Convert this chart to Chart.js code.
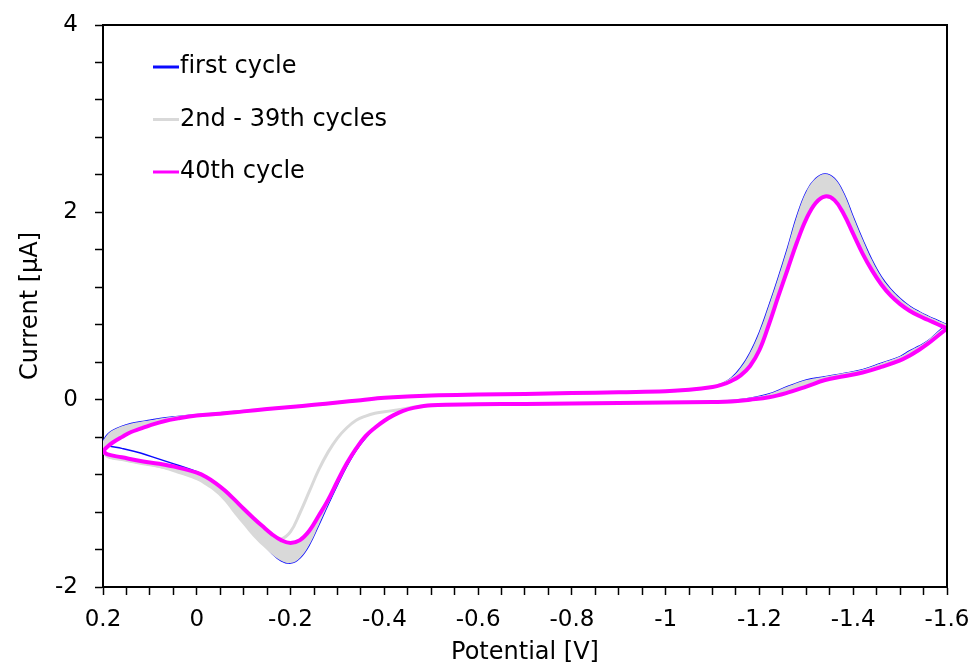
<!DOCTYPE html>
<html>
<head>
<meta charset="utf-8">
<title>Cyclic voltammogram</title>
<script src="https://cdn.jsdelivr.net/npm/chart.js@4.4.1/dist/chart.umd.min.js"></script>
<style>
  html, body { margin: 0; padding: 0; background: #fff; }
</style>
</head>
<body>
<canvas id="cvChart" width="975" height="668"></canvas>
<script>
// potential grid of the negative-going scan and of the return scan (V)
const fwdPotential = [0.2, 0.19, 0.18, 0.16, 0.14, 0.12, 0.1, 0.07, 0.04, 0,
  -0.05, -0.1, -0.15, -0.2, -0.25, -0.3, -0.35, -0.4, -0.5, -0.6, -0.7, -0.8, -0.9, -1.0,
  -1.05, -1.1, -1.12, -1.14, -1.16, -1.18, -1.2, -1.22, -1.24, -1.26, -1.28, -1.3, -1.32,
  -1.34, -1.36, -1.38, -1.4, -1.42, -1.44, -1.46, -1.48, -1.5, -1.52, -1.54, -1.56, -1.58, -1.6];
const revPotential = [-1.6, -1.58, -1.56, -1.54, -1.52, -1.5, -1.46, -1.42, -1.38, -1.34,
  -1.3, -1.26, -1.22, -1.18, -1.14, -1.1, -1.0, -0.9, -0.8, -0.7, -0.6, -0.5, -0.46, -0.44,
  -0.42, -0.4, -0.38, -0.36, -0.34, -0.32, -0.3, -0.28, -0.26, -0.24, -0.22, -0.2, -0.18,
  -0.16, -0.14, -0.12, -0.1, -0.08, -0.06, -0.04, -0.02, 0, 0.04, 0.08, 0.12, 0.16, 0.19, 0.2];

// currents (µA)
const firstFwd = [-0.44, -0.37, -0.33, -0.285, -0.255, -0.235, -0.22, -0.195, -0.18, -0.16,
  -0.14, -0.12, -0.1, -0.078, -0.055, -0.03, -0.005, 0.02, 0.045, 0.055, 0.06, 0.07, 0.08, 0.09,
  0.105, 0.135, 0.17, 0.23, 0.34, 0.5, 0.72, 1.0, 1.3, 1.62, 1.96, 2.22, 2.36,
  2.41, 2.36, 2.2, 1.95, 1.71, 1.49, 1.31, 1.18, 1.08, 1.0, 0.94, 0.89, 0.845, 0.8];
const firstRev = [0.8, 0.72, 0.63, 0.57, 0.52, 0.46, 0.39, 0.32, 0.28, 0.245,
  0.21, 0.14, 0.06, 0.015, -0.01, -0.02, -0.03, -0.035, -0.04, -0.045, -0.05, -0.06, -0.08, -0.11,
  -0.16, -0.22, -0.3, -0.41, -0.54, -0.71, -0.91, -1.12, -1.34, -1.55, -1.69, -1.745, -1.72,
  -1.64, -1.52, -1.38, -1.25, -1.12, -1.0, -0.9, -0.82, -0.77, -0.7, -0.635, -0.57, -0.52, -0.49, -0.45];

const midFwd = [-0.5, -0.44, -0.4, -0.34, -0.3, -0.27, -0.25, -0.215, -0.19, -0.165,
  -0.145, -0.122, -0.1, -0.078, -0.055, -0.03, -0.005, 0.02, 0.045, 0.055, 0.06, 0.07, 0.08, 0.09,
  0.105, 0.135, 0.165, 0.215, 0.3, 0.43, 0.63, 0.9, 1.2, 1.5, 1.81, 2.06, 2.22,
  2.29, 2.25, 2.09, 1.86, 1.64, 1.44, 1.27, 1.15, 1.05, 0.975, 0.92, 0.87, 0.825, 0.785];
const midRev = [0.78, 0.7, 0.615, 0.55, 0.495, 0.44, 0.37, 0.305, 0.265, 0.23,
  0.175, 0.105, 0.04, 0.005, -0.015, -0.022, -0.03, -0.035, -0.04, -0.045, -0.05, -0.065, -0.08, -0.1,
  -0.115, -0.13, -0.145, -0.175, -0.22, -0.3, -0.41, -0.56, -0.75, -0.98, -1.21, -1.41, -1.49,
  -1.48, -1.45, -1.38, -1.28, -1.17, -1.05, -0.96, -0.89, -0.83, -0.76, -0.71, -0.675, -0.635, -0.6, -0.52];

const lastFwd = [-0.55, -0.5, -0.46, -0.4, -0.345, -0.31, -0.275, -0.23, -0.2, -0.17,
  -0.15, -0.125, -0.1, -0.078, -0.055, -0.03, -0.005, 0.02, 0.045, 0.055, 0.06, 0.07, 0.08, 0.09,
  0.105, 0.135, 0.16, 0.2, 0.26, 0.36, 0.53, 0.8, 1.1, 1.39, 1.68, 1.93, 2.1,
  2.17, 2.13, 1.98, 1.77, 1.56, 1.38, 1.23, 1.11, 1.02, 0.95, 0.895, 0.85, 0.805, 0.76];
const lastRev = [0.76, 0.68, 0.6, 0.53, 0.47, 0.42, 0.35, 0.29, 0.25, 0.21,
  0.14, 0.075, 0.025, 0.0, -0.02, -0.025, -0.03, -0.035, -0.04, -0.045, -0.05, -0.06, -0.09, -0.12,
  -0.165, -0.225, -0.3, -0.39, -0.52, -0.68, -0.87, -1.07, -1.24, -1.4, -1.5, -1.53, -1.5,
  -1.435, -1.35, -1.26, -1.165, -1.065, -0.97, -0.89, -0.825, -0.78, -0.725, -0.685, -0.655, -0.615, -0.585, -0.55];

// outer edge of the grey band of cycles 2-39 on the return scan
const bandRevEdge = [0.8, 0.72, 0.63, 0.57, 0.52, 0.46, 0.39, 0.32, 0.28, 0.245,
  0.21, 0.14, 0.06, 0.015, -0.01, -0.02, -0.03, -0.035, -0.04, -0.045, -0.05, -0.06, -0.09, -0.12,
  -0.165, -0.225, -0.3, -0.41, -0.54, -0.71, -0.91, -1.12, -1.34, -1.55, -1.69, -1.745, -1.72,
  -1.65, -1.56, -1.46, -1.34, -1.22, -1.09, -0.99, -0.92, -0.86, -0.79, -0.73, -0.695, -0.655, -0.625, -0.58];

const seriesNames = ['first cycle', '2nd - 39th cycles', '40th cycle'];
const xTickLabels = ['0.2', '0', '-0.2', '-0.4', '-0.6', '-0.8', '-1', '-1.2', '-1.4', '-1.6'];
const yTickLabels = ['-2', '0', '2', '4'];

const FONT = 'DejaVu Sans';
const GREY = '#d9d9d9';

function pts(xs, ys) {
  return xs.map((x, i) => ({ x: x, y: ys[i] }));
}
function loop(fwd, rev) {
  return pts(fwdPotential, fwd).concat(pts(revPotential, rev));
}

// legend drawn inside the plot, top left
const cvLegend = {
  id: 'cvLegend',
  afterDraw(chart) {
    const ctx = chart.ctx;
    const a = chart.chartArea;
    ctx.save();
    ctx.font = '24px "' + FONT + '"';
    ctx.textRendering = 'optimizeSpeed'; // no "fi" ligature
    ctx.textBaseline = 'middle';
    ctx.textAlign = 'left';
    for (let i = 0; i < 3; i++) {
      const ds = chart.data.datasets[i];
      const y = a.top + 42 + i * 52.5;
      ctx.strokeStyle = ds.borderColor;
      ctx.lineWidth = 3;
      ctx.beginPath();
      ctx.moveTo(a.left + 50, y);
      ctx.lineTo(a.left + 76, y);
      ctx.stroke();
      ctx.fillStyle = '#000';
      ctx.fillText(ds.label, a.left + 77, y);
    }
    ctx.restore();
  }
};

// top and right edges of the frame
const cvFrame = {
  id: 'cvFrame',
  afterDatasetsDraw(chart) {
    const ctx = chart.ctx;
    const a = chart.chartArea;
    ctx.save();
    ctx.strokeStyle = '#000';
    ctx.lineWidth = 2;
    ctx.beginPath();
    ctx.moveTo(a.left - 1, a.top);
    ctx.lineTo(a.right, a.top);
    ctx.lineTo(a.right, a.bottom + 1);
    ctx.stroke();
    ctx.restore();
  }
};

const ctx = document.getElementById('cvChart').getContext('2d');
const cvChart = new Chart(ctx, {
  type: 'scatter',
  data: {
    datasets: [
      {
        label: seriesNames[0],
        data: loop(firstFwd, firstRev),
        showLine: true,
        borderColor: '#0a0aff',
        borderWidth: 1.5,
        pointRadius: 0,
        tension: 0.4,
        order: 5
      },
      {
        label: seriesNames[1],
        data: loop(midFwd, midRev),
        showLine: true,
        borderColor: GREY,
        borderWidth: 3,
        pointRadius: 0,
        tension: 0.4,
        order: 2
      },
      {
        label: seriesNames[2],
        data: loop(lastFwd, lastRev),
        showLine: true,
        borderColor: '#ff00ff',
        borderWidth: 4,
        pointRadius: 0,
        tension: 0.4,
        order: 0
      },
      // grey band, forward scan: between first and 40th cycle
      {
        label: 'band-fwd',
        data: pts(fwdPotential, firstFwd),
        showLine: true,
        borderWidth: 0,
        borderColor: 'rgba(0,0,0,0)',
        backgroundColor: GREY,
        fill: 4,
        pointRadius: 0,
        tension: 0.4,
        order: 3
      },
      {
        label: 'band-fwd-inner',
        data: pts(fwdPotential, lastFwd),
        showLine: true,
        borderWidth: 0,
        borderColor: 'rgba(0,0,0,0)',
        pointRadius: 0,
        tension: 0.4,
        order: 6
      },
      // grey band, return scan
      {
        label: 'band-rev',
        data: pts(revPotential, bandRevEdge),
        showLine: true,
        borderWidth: 0,
        borderColor: 'rgba(0,0,0,0)',
        backgroundColor: GREY,
        fill: 6,
        pointRadius: 0,
        tension: 0.4,
        order: 3
      },
      {
        label: 'band-rev-inner',
        data: pts(revPotential, lastRev),
        showLine: true,
        borderWidth: 0,
        borderColor: 'rgba(0,0,0,0)',
        pointRadius: 0,
        tension: 0.4,
        order: 6
      }
    ]
  },
  options: {
    responsive: false,
    animation: false,
    devicePixelRatio: 1,
    layout: { padding: { left: 0, right: 28, top: 25, bottom: 0 } },
    plugins: {
      legend: { display: false },
      tooltip: { enabled: false }
    },
    scales: {
      x: {
        type: 'linear',
        reverse: true,
        min: -1.6,
        max: 0.2,
        ticks: {
          stepSize: 0.05,
          autoSkip: false,
          maxRotation: 0,
          color: '#000',
          padding: 11,
          font: { family: FONT, size: 23 },
          callback: function (value) {
            const k = (0.2 - value) / 0.2;
            const r = Math.round(k);
            return Math.abs(k - r) < 1e-6 ? xTickLabels[r] : '';
          }
        },
        grid: { drawOnChartArea: false, drawTicks: true, tickLength: 8, tickWidth: 1.5, tickColor: '#000' },
        border: { display: true, color: '#000', width: 2 },
        title: {
          display: true,
          text: 'Potential [V]',
          color: '#000',
          font: { family: FONT, size: 24 },
          padding: { top: 0, bottom: 1 }
        },
        afterFit: function (scale) {
          scale.height = 81;
          scale.paddingLeft = 0;
          scale.paddingRight = 0;
        }
      },
      y: {
        type: 'linear',
        min: -2,
        max: 4,
        ticks: {
          stepSize: 0.4,
          autoSkip: false,
          color: '#000',
          padding: 17,
          font: { family: FONT, size: 23 },
          callback: function (value) {
            const k = (value + 2) / 2;
            const r = Math.round(k);
            return Math.abs(k - r) < 1e-6 ? yTickLabels[r] : '';
          }
        },
        grid: { drawOnChartArea: false, drawTicks: true, tickLength: 8, tickWidth: 1.5, tickColor: '#000' },
        border: { display: true, color: '#000', width: 2 },
        title: {
          display: true,
          text: 'Current [µA]',
          color: '#000',
          font: { family: FONT, size: 24 },
          padding: { top: 16, bottom: 0 }
        },
        afterFit: function (scale) {
          scale.width = 103;
          scale.paddingTop = 0;
          scale.paddingBottom = 0;
        }
      }
    }
  },
  plugins: [cvFrame, cvLegend]
});
</script>
</body>
</html>
